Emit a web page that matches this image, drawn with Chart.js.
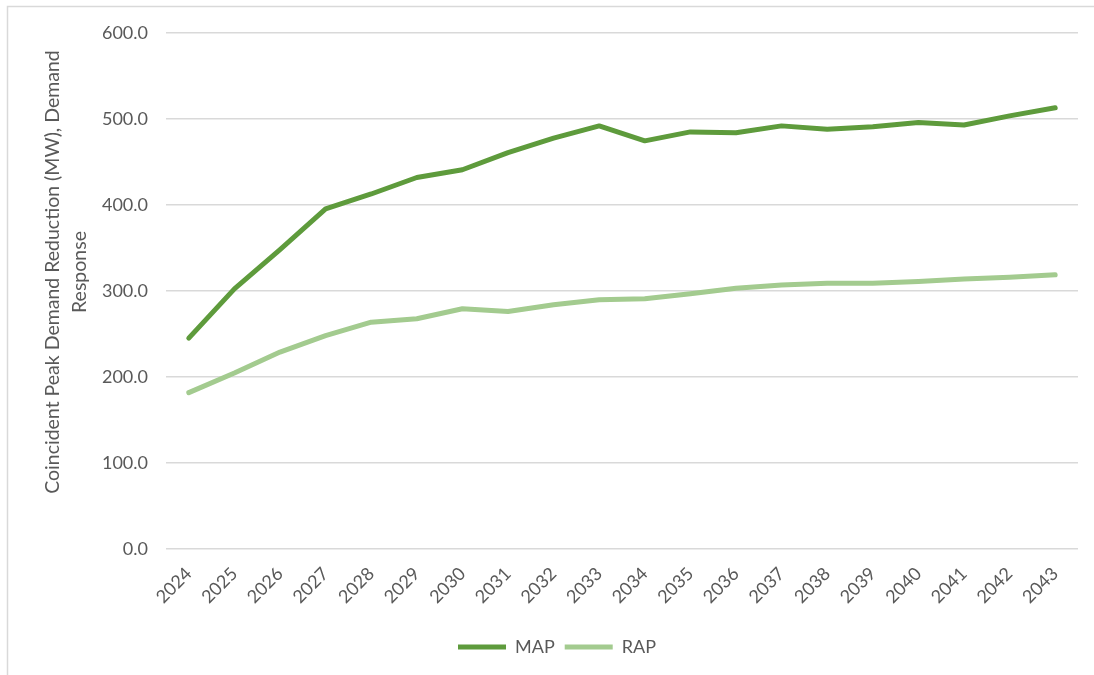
<!DOCTYPE html>
<html>
<head>
<meta charset="utf-8">
<script src="https://cdn.jsdelivr.net/npm/chart.js@4"></script>
<style>
  html, body { margin: 0; padding: 0; background: #ffffff; }
  #wrap { position: relative; width: 1094px; height: 675px; }
</style>
</head>
<body>
<div id="wrap"><canvas id="chart" width="1094" height="675"></canvas></div>
<script>
// Demand response peak reduction by year, two scenarios
const years = ['2024','2025','2026','2027','2028','2029','2030','2031','2032','2033',
               '2034','2035','2036','2037','2038','2039','2040','2041','2042','2043'];
const mapValues = [245.2, 302.5, 348.0, 395.4, 412.8, 432.0, 441.0, 461.0, 477.7, 492.0,
                   474.6, 485.0, 484.0, 492.0, 488.0, 491.0, 496.0, 493.0, 503.6, 513.0];
const rapValues = [181.8, 204.6, 229.0, 248.0, 263.8, 267.7, 279.3, 276.2, 284.0, 289.8,
                   291.0, 296.7, 303.3, 307.0, 309.0, 309.0, 311.0, 314.0, 316.0, 318.8];
const yTitleLines = ['Coincident Peak Demand Reduction (MW), Demand', 'Response'];

const FONT = 'Lato, "Open Sans", sans-serif';
const TEXT_GREY = '#595959';

// Light frame along the top and left edges
const framePlugin = {
  id: 'frame',
  beforeDraw(chart) {
    const ctx = chart.ctx;
    ctx.save();
    ctx.strokeStyle = '#d9d9d9';
    ctx.lineWidth = 1.5;
    ctx.beginPath();
    ctx.moveTo(7.5, 675);
    ctx.lineTo(7.5, 6.5);
    ctx.lineTo(1094, 6.5);
    ctx.stroke();
    ctx.restore();
  }
};

// Two-line rotated y-axis title
const yTitlePlugin = {
  id: 'yTitle',
  afterDraw(chart) {
    const ctx = chart.ctx;
    ctx.save();
    ctx.fillStyle = TEXT_GREY;
    ctx.font = '19.5px ' + FONT;
    ctx.textAlign = 'center';
    ctx.textBaseline = 'middle';
    const cy = 272;
    const xs = [53, 80];
    yTitleLines.forEach((line, i) => {
      ctx.save();
      ctx.translate(xs[i], cy);
      ctx.rotate(-Math.PI / 2);
      ctx.fillText(line, 0, 0);
      ctx.restore();
    });
    ctx.restore();
  }
};

// Nudge the legend row to the right of the canvas centre
const legendShift = {
  id: 'legendShift',
  afterLayout(chart) {
    const lg = chart.legend;
    if (lg) { lg.left += 18; lg.right += 18; }
  }
};

new Chart(document.getElementById('chart'), {
  type: 'line',
  data: {
    labels: years,
    datasets: [
      {
        label: 'MAP',
        data: mapValues,
        borderColor: '#5e9b3c',
        backgroundColor: '#5e9b3c',
        borderWidth: 5,
        pointRadius: 0,
        borderCapStyle: 'round',
        borderJoinStyle: 'round',
        tension: 0
      },
      {
        label: 'RAP',
        data: rapValues,
        borderColor: '#a3cb8f',
        backgroundColor: '#a3cb8f',
        borderWidth: 5,
        pointRadius: 0,
        borderCapStyle: 'round',
        borderJoinStyle: 'round',
        tension: 0
      }
    ]
  },
  options: {
    responsive: false,
    animation: false,
    devicePixelRatio: 1,
    layout: { padding: { left: 0, right: 16, top: 33, bottom: 9 } },
    plugins: {
      legend: {
        position: 'bottom',
        labels: {
          color: TEXT_GREY,
          font: { family: FONT, size: 18 },
          boxWidth: 48,
          boxHeight: 5,
          padding: 10,
          generateLabels(chart) {
            return chart.data.datasets.map((ds, i) => ({
              text: ds.label,
              fillStyle: ds.borderColor,
              strokeStyle: ds.borderColor,
              lineWidth: 0,
              fontColor: TEXT_GREY,
              datasetIndex: i,
              hidden: false
            }));
          }
        }
      },
      tooltip: { enabled: false }
    },
    scales: {
      x: {
        offset: true,
        grid: { display: false, drawTicks: false },
        border: { display: false },
        ticks: {
          color: TEXT_GREY,
          font: { family: FONT, size: 18 },
          minRotation: 45,
          maxRotation: 45,
          padding: 14,
          autoSkip: false
        },
        afterFit(scale) { scale.height = 79; }
      },
      y: {
        min: 0,
        max: 600,
        grid: { color: '#d9d9d9', lineWidth: 1.5, drawTicks: false },
        border: { display: false },
        ticks: {
          stepSize: 100,
          color: TEXT_GREY,
          font: { family: FONT, size: 18 },
          padding: 18,
          callback: v => Number(v).toFixed(1)
        },
        afterFit(scale) { scale.width = 166; }
      }
    }
  },
  plugins: [framePlugin, yTitlePlugin, legendShift]
});
</script>
</body>
</html>
